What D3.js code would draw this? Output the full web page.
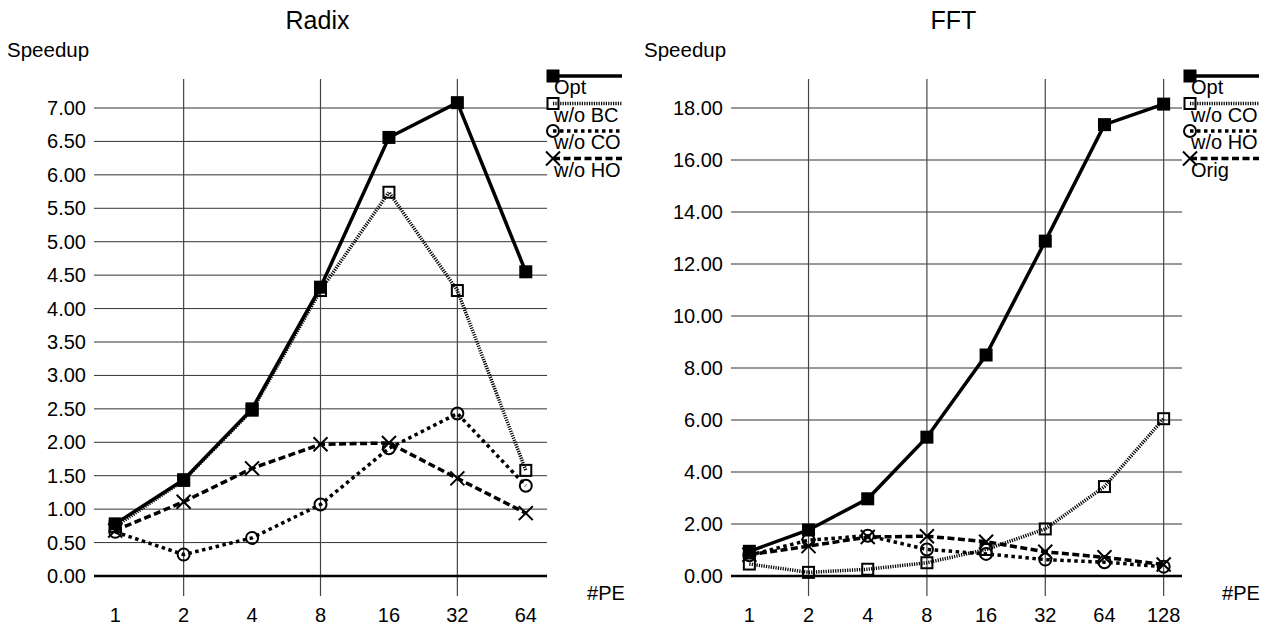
<!DOCTYPE html>
<html>
<head>
<meta charset="utf-8">
<script src="https://cdn.jsdelivr.net/npm/d3@7"></script>
<style>
  body { margin: 0; background: #fff; }
  svg { display: block; font-family: "Liberation Sans", Arial, sans-serif; }
</style>
</head>
<body>
<div id="chart"></div>
<script>
/**
 * CONSTANTS AND DATA
 * */
const width = 1266,
  height = 628;

// x categories (#PE)
const radixPE = ["1", "2", "4", "8", "16", "32", "64"];
const fftPE = ["1", "2", "4", "8", "16", "32", "64", "128"];

// y tick values
const radixTicks = [0, 0.5, 1, 1.5, 2, 2.5, 3, 3.5, 4, 4.5, 5, 5.5, 6, 6.5, 7];
const fftTicks = [0, 2, 4, 6, 8, 10, 12, 14, 16, 18];

// Radix speedups
const radixOpt = [0.78, 1.44, 2.50, 4.32, 6.56, 7.08, 4.55];
const radixNoBC = [0.74, 1.43, 2.48, 4.27, 5.74, 4.27, 1.58];
const radixNoCO = [0.66, 0.32, 0.57, 1.07, 1.91, 2.43, 1.35];
const radixNoHO = [0.68, 1.11, 1.61, 1.97, 1.99, 1.46, 0.94];

// FFT speedups
const fftOpt = [0.95, 1.77, 2.97, 5.34, 8.50, 12.88, 17.36, 18.15];
const fftNoCO = [0.46, 0.14, 0.26, 0.51, 1.02, 1.81, 3.44, 6.05];
const fftNoHO = [0.80, 1.38, 1.55, 1.02, 0.85, 0.63, 0.53, 0.36];
const fftOrig = [0.82, 1.15, 1.50, 1.53, 1.32, 0.93, 0.72, 0.44];

// line styles per legend slot
const styles = [
  { marker: "filled", dash: null },
  { marker: "square", dash: "1.2,1.2" },
  { marker: "circle", dash: "3.5,3.5" },
  { marker: "cross", dash: "7,3.5" }
];

const charts = [
  {
    title: "Radix", left: 94, right: 547, domainMax: 7, ticks: radixTicks,
    cats: radixPE, gridCats: ["2", "8", "32"], legendX: 553,
    series: [
      { name: "Opt", values: radixOpt },
      { name: "w/o BC", values: radixNoBC },
      { name: "w/o CO", values: radixNoCO },
      { name: "w/o HO", values: radixNoHO }
    ]
  },
  {
    title: "FFT", left: 731, right: 1182, domainMax: 18, ticks: fftTicks,
    cats: fftPE, gridCats: ["2", "8", "32", "128"], legendX: 1190,
    series: [
      { name: "Opt", values: fftOpt },
      { name: "w/o CO", values: fftNoCO },
      { name: "w/o HO", values: fftNoHO },
      { name: "Orig", values: fftOrig }
    ]
  }
];

const plotTop = 79, zeroY = 576, topTickY = 108;

const svg = d3.select("#chart")
  .append("svg")
  .attr("width", width)
  .attr("height", height);

function drawMarker(g, type, x, y) {
  if (type === "filled") {
    g.append("rect").attr("x", x - 6.5).attr("y", y - 6.5)
      .attr("width", 13).attr("height", 13).attr("fill", "#000");
  } else if (type === "square") {
    g.append("rect").attr("x", x - 5.5).attr("y", y - 5.5)
      .attr("width", 11).attr("height", 11)
      .attr("fill", "none").attr("stroke", "#000").attr("stroke-width", 2);
  } else if (type === "circle") {
    g.append("circle").attr("cx", x).attr("cy", y).attr("r", 6)
      .attr("fill", "none").attr("stroke", "#000").attr("stroke-width", 2);
  } else {
    g.append("path")
      .attr("d", `M${x - 7},${y - 7}L${x + 7},${y + 7}M${x - 7},${y + 7}L${x + 7},${y - 7}`)
      .attr("stroke", "#000").attr("stroke-width", 2);
  }
}

charts.forEach(c => {
  const x = d3.scalePoint().domain(c.cats).range([c.left, c.right]).padding(0.31);
  const y = d3.scaleLinear().domain([0, c.domainMax]).range([zeroY, topTickY]);
  const g = svg.append("g");

  // title + axis titles
  g.append("text")
    .attr("x", (c.left + c.right) / 2 - 3).attr("y", 29)
    .attr("text-anchor", "middle").attr("font-size", 25)
    .text(c.title);
  g.append("text")
    .attr("x", c.left - 87).attr("y", 57)
    .attr("font-size", 20.5)
    .text("Speedup");
  g.append("text")
    .attr("x", c.right + 59).attr("y", 600)
    .attr("text-anchor", "middle").attr("font-size", 20)
    .text("#PE");

  // horizontal gridlines
  g.selectAll(".hgrid")
    .data(c.ticks.filter(d => d > 0))
    .join("line")
    .attr("x1", c.left).attr("x2", c.right)
    .attr("y1", d => y(d)).attr("y2", d => y(d))
    .attr("stroke", "#333").attr("stroke-width", 1);

  // vertical gridlines
  g.selectAll(".vgrid")
    .data(c.gridCats)
    .join("line")
    .attr("x1", d => x(d)).attr("x2", d => x(d))
    .attr("y1", plotTop).attr("y2", 596)
    .attr("stroke", "#444").attr("stroke-width", 1.2);

  // zero axis line
  g.append("line")
    .attr("x1", c.left).attr("x2", c.right)
    .attr("y1", y(0)).attr("y2", y(0))
    .attr("stroke", "#000").attr("stroke-width", 2.5);

  // y tick labels
  g.selectAll(".ylab")
    .data(c.ticks)
    .join("text")
    .attr("x", c.left - 8).attr("y", d => y(d))
    .attr("dy", "0.35em").attr("text-anchor", "end").attr("font-size", 20)
    .text(d => d.toFixed(2));

  // x tick labels
  g.selectAll(".xlab")
    .data(c.cats)
    .join("text")
    .attr("x", d => x(d)).attr("y", 622)
    .attr("text-anchor", "middle").attr("font-size", 20)
    .text(d => d);

  const line = d3.line()
    .x((d, i) => x(c.cats[i]))
    .y(d => y(d));

  c.series.forEach((s, si) => {
    const st = styles[si];
    const sg = g.append("g");
    sg.append("path")
      .attr("d", line(s.values))
      .attr("fill", "none").attr("stroke", "#000").attr("stroke-width", 3.5)
      .attr("stroke-dasharray", st.dash);
    s.values.forEach((v, i) => drawMarker(sg, st.marker, x(c.cats[i]), y(v)));

    // legend
    const ly = 76 + si * 27.5;
    const lg = g.append("g");
    lg.append("line")
      .attr("x1", c.legendX).attr("x2", c.legendX + 69)
      .attr("y1", ly).attr("y2", ly)
      .attr("stroke", "#000").attr("stroke-width", 3.5)
      .attr("stroke-dasharray", st.dash);
    drawMarker(lg, st.marker, c.legendX, ly);
    lg.append("text")
      .attr("x", c.legendX + 1).attr("y", ly + 18)
      .attr("font-size", 20)
      .text(s.name);
  });
});
</script>
</body>
</html>
